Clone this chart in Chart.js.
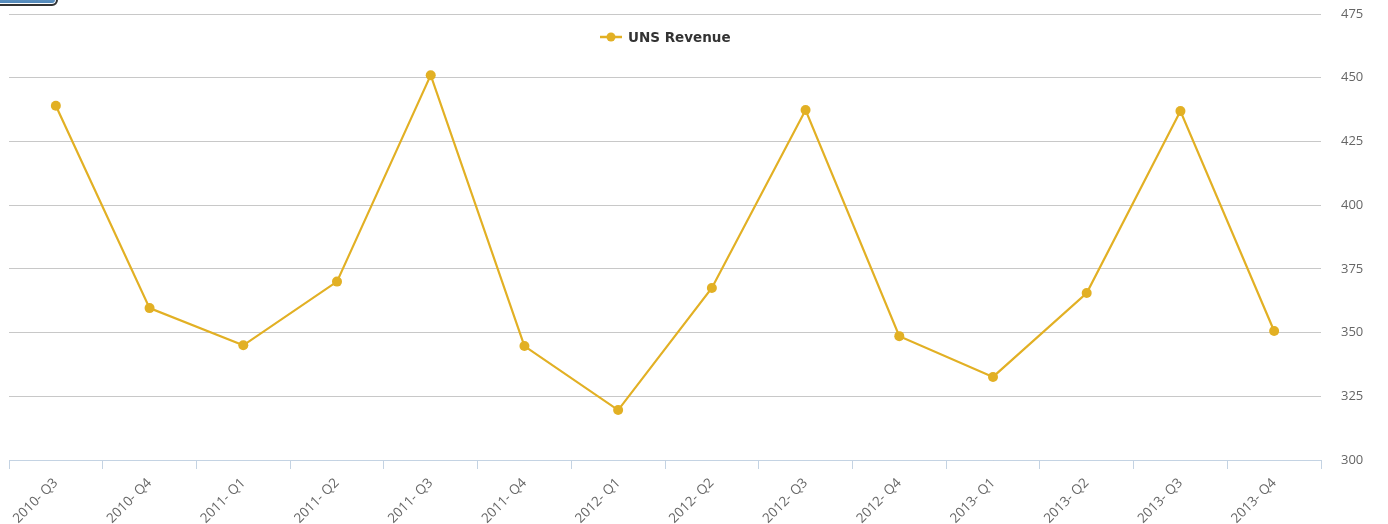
<!DOCTYPE html>
<html>
<head>
<meta charset="utf-8">
<script src="https://cdn.jsdelivr.net/npm/chart.js@4/dist/chart.umd.min.js"></script>
<style>
    html, body { margin: 0; padding: 0; background: #fff; }
    #wrap { position: relative; width: 1388px; height: 524px; overflow: hidden; }
    #btn {
        position: absolute; left: -12px; top: -22px; width: 66px; height: 24px;
        border: 2px solid #333; border-radius: 6px;
        background: linear-gradient(#9cc4e4, #4f86b8);
        box-shadow: inset 0 0 0 1px #fff;
    }
    #legend {
        position: absolute; top: 29px; left: 600px;
        font: bold 13.5px "DejaVu Sans", sans-serif; color: #333;
        display: flex; align-items: center; white-space: nowrap;
    }
    #legend canvas { margin-right: 6px; }
</style>
</head>
<body>
<div id="wrap">
    <canvas id="chart" width="1388" height="524"></canvas>
    <div id="btn"></div>
    <div id="legend"><canvas id="legendIcon" width="22" height="12"></canvas><span id="legendText"></span></div>
</div>
<script>
// datos
const trimestres = ["2010- Q3", "2010- Q4", "2011- Q1", "2011- Q2", "2011- Q3", "2011- Q4",
    "2012- Q1", "2012- Q2", "2012- Q3", "2012- Q4", "2013- Q1", "2013- Q2", "2013- Q3", "2013- Q4"];
const ingresos = [439, 359.6, 345, 370, 451, 344.7, 319.6, 367.5, 437.3, 348.6, 332.6, 365.5, 436.9, 350.6];
const nombreSerie = "UNS Revenue";
const yTicks = [300, 325, 350, 375, 400, 425, 450, 475];

const color = "#E2B024";

// leyenda (icono con linea y punto)
document.getElementById("legendText").textContent = nombreSerie;
const ic = document.getElementById("legendIcon").getContext("2d");
ic.strokeStyle = color; ic.lineWidth = 2.5;
ic.beginPath(); ic.moveTo(0, 6); ic.lineTo(22, 6); ic.stroke();
ic.fillStyle = color;
ic.beginPath(); ic.arc(11, 6, 4.5, 0, Math.PI * 2); ic.fill();

const ctx = document.getElementById("chart").getContext("2d");
new Chart(ctx, {
    type: "line",
    data: {
        labels: trimestres,
        datasets: [{
            label: nombreSerie,
            data: ingresos,
            borderColor: color,
            backgroundColor: color,
            borderWidth: 2.2,
            pointRadius: 5,
            pointBorderWidth: 0,
            pointHoverRadius: 5,
            tension: 0
        }]
    },
    options: {
        responsive: false,
        animation: false,
        layout: { padding: { top: 14, left: 9, right: 0, bottom: 0 } },
        plugins: { legend: { display: false }, tooltip: { enabled: false } },
        scales: {
            x: {
                offset: true,
                grid: { offset: true, drawOnChartArea: false, drawTicks: true, tickLength: 9, color: "#C4D3E3" },
                border: { color: "#C4D3E3" },
                ticks: {
                    minRotation: 45, maxRotation: 45, padding: 6,
                    color: "#666", font: { family: "'Open Sans', sans-serif", size: 13.5 }
                },
                afterFit: function (s) { s.height = 64; s.paddingLeft = 0; s.paddingRight = 0; }
            },
            y: {
                position: "right",
                min: 300, max: 475,
                afterBuildTicks: function (s) { s.ticks = yTicks.map(v => ({ value: v })); },
                grid: { drawTicks: false, color: "#C8C8C8", lineWidth: 1 },
                border: { display: false },
                ticks: {
                    padding: 20,
                    color: "#666", font: { family: "'Open Sans', sans-serif", size: 13 }
                },
                afterFit: function (s) { s.width = 67; s.paddingTop = 0; s.paddingBottom = 0; }
            }
        }
    }
});
</script>
</body>
</html>
